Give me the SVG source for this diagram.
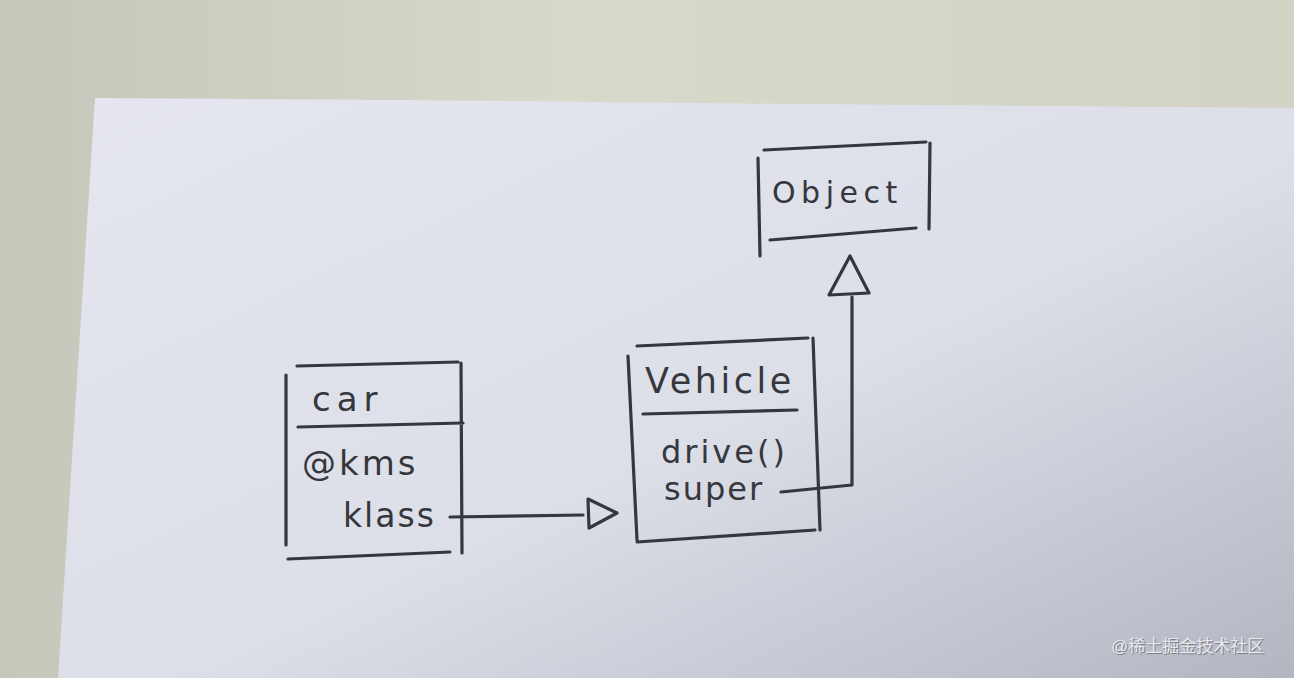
<svg xmlns="http://www.w3.org/2000/svg" width="1294" height="678" viewBox="0 0 1294 678">
<defs>
<linearGradient id="wall" x1="0" y1="0" x2="1" y2="0">
<stop offset="0" stop-color="#c6c6ba"/><stop offset="0.45" stop-color="#d8d8cb"/><stop offset="1" stop-color="#d2d2c5"/>
</linearGradient>
<linearGradient id="paper" x1="0" y1="0" x2="1" y2="1">
<stop offset="0" stop-color="#e5e6ef"/><stop offset="0.55" stop-color="#dcdee8"/><stop offset="1" stop-color="#b3b6c1"/>
</linearGradient>
<style>
.ink{stroke:#36373d;stroke-width:3.2;fill:none;stroke-linecap:round;stroke-linejoin:round}
.t{font-family:"DejaVu Sans","Liberation Sans",sans-serif;fill:#36373d;font-weight:normal}
</style>
</defs>
<rect width="1294" height="678" fill="url(#wall)"/>
<polygon points="95,98 400,100 800,104 1294,108 1294,678 58,678" fill="url(#paper)"/>
<g id="connectors">
<path class="ink" d="M450,517 L583,515"/>
<path class="ink" d="M588,499 L617,513 L589,528 Z"/>
<path class="ink" d="M781,492 L852,485 L852,297"/>
<path class="ink" d="M850,256 L869,293 L829,295 Z"/>
</g>
<g id="car">
<path class="ink" d="M297,366 L458,362 M286,375 L286,545 M461,363 L462,553 M298,427 L463,423 M288,559 L450,552"/>
<text class="t" x="312" y="411" font-size="34" letter-spacing="6">car</text>
<text class="t" x="302" y="475" font-size="34" letter-spacing="3">@kms</text>
<text class="t" x="343" y="527" font-size="33" letter-spacing="2">klass</text>
</g>
<g id="vehicle">
<path class="ink" d="M637,346 L808,338 M628,356 L637,540 M813,338 L820,530 M643,414 L797,410 M637,542 L815,530"/>
<text class="t" x="645" y="393" font-size="35" letter-spacing="3.5">Vehicle</text>
<text class="t" x="661" y="463" font-size="32" letter-spacing="3">drive()</text>
<text class="t" x="664" y="500" font-size="32" letter-spacing="2">super</text>
</g>
<g id="object">
<path class="ink" d="M764,150 L926,142 M758,158 L760,256 M930,143 L929,229 M770,240 L916,228"/>
<text class="t" x="772" y="203" font-size="30" letter-spacing="5.5">Object</text>
</g>
<text x="1112" y="653" font-family="'Liberation Sans','Noto Sans CJK SC',sans-serif" font-size="17" fill="#3a3b44" opacity="0.5">@稀土掘金技术社区</text>
<text x="1111" y="652" font-family="'Liberation Sans','Noto Sans CJK SC',sans-serif" font-size="17" fill="#e8e9ee">@稀土掘金技术社区</text>
</svg>
